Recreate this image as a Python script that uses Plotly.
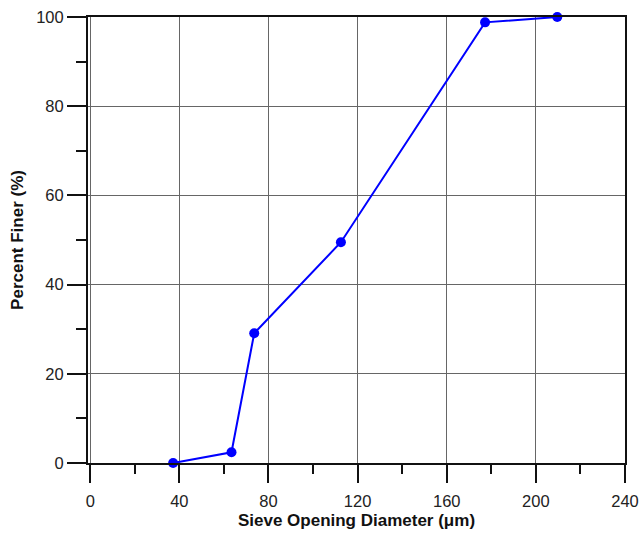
import plotly.graph_objects as go

sieve_um = [37.2, 63.4, 73.6, 112.5, 177.2, 209.6]
percent_finer = [0.0, 2.4, 29.1, 49.5, 98.8, 100.0]

x_tickvals = [0, 40, 80, 120, 160, 200, 240]
y_tickvals = [0, 20, 40, 60, 80, 100]

fig = go.Figure()
fig.add_trace(go.Scatter(
    x=sieve_um, y=percent_finer, mode="lines+markers",
    line=dict(color="#0000FF", width=2),
    marker=dict(color="#0000FF", size=10),
    showlegend=False, cliponaxis=False,
))

font = dict(family="Arial, Liberation Sans, sans-serif", size=16.5, color="#222")

fig.update_layout(
    width=640, height=534,
    margin=dict(l=88, r=15, t=17, b=71),
    paper_bgcolor="white", plot_bgcolor="white",
    font=font,
)
fig.update_xaxes(
    range=[-1, 240], tickvals=x_tickvals, automargin=False,
    ticks="outside", ticklen=18, tickwidth=2, tickcolor="#111",
    ticklabelstandoff=4,
    showline=True, linecolor="#111", linewidth=2, mirror=True,
    showgrid=True, gridcolor="#666666", gridwidth=1,
    zeroline=False,
    minor=dict(dtick=20, tick0=0, ticks="outside", ticklen=9, tickwidth=1.5, tickcolor="#111", showgrid=False),
    title=dict(text="<b>Sieve Opening Diameter (μm)</b>", font=dict(size=17, color="#111"), standoff=5),
)
fig.update_yaxes(
    range=[0, 100], tickvals=y_tickvals, automargin=False,
    ticks="outside", ticklen=19, tickwidth=2, tickcolor="#111",
    showline=True, linecolor="#111", linewidth=2, mirror=True,
    showgrid=True, gridcolor="#666666", gridwidth=1,
    zeroline=False,
    minor=dict(dtick=10, tick0=0, ticks="outside", ticklen=10, tickwidth=1.5, tickcolor="#111", showgrid=False),
    title=dict(text="<b>Percent Finer (%)</b>", font=dict(size=17, color="#111"), standoff=8),
)

fig.write_html("out.html")
